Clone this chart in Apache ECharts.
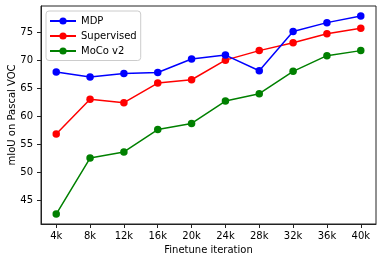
<!DOCTYPE html>
<html>
<head>
<meta charset="utf-8">
<script src="https://cdn.jsdelivr.net/npm/echarts@6/dist/echarts.min.js"></script>
<style>html,body{margin:0;padding:0;background:#fff}#c{width:382px;height:262px}</style>
</head>
<body>
<div id="c"></div>
<script>
var iterations = [4, 8, 12, 16, 20, 24, 28, 32, 36, 40];
var mdp = [67.9, 67.0, 67.6, 67.8, 70.2, 70.9, 68.1, 75.1, 76.7, 77.9];
var supervised = [56.8, 63.0, 62.4, 65.9, 66.5, 70.0, 71.7, 73.1, 74.7, 75.7];
var moco = [42.5, 52.5, 53.6, 57.6, 58.7, 62.7, 64.0, 68.0, 70.8, 71.7];
var yTicks = [45, 50, 55, 60, 65, 70, 75];
var seriesNames = ['MDP', 'Supervised', 'MoCo v2'];
var colors = ['#0000ff', '#ff0000', '#008000'];

var font = 'DejaVu Sans';
function pairs(arr) { return arr.map(function (v, i) { return [iterations[i], v]; }); }
var allVals = mdp.concat(supervised, moco);
var dmin = Math.min.apply(null, allVals), dmax = Math.max.apply(null, allVals);
var pad = (dmax - dmin) * 0.05;
var xpad = (iterations[iterations.length - 1] - iterations[0]) * 0.05;

var chart = echarts.init(document.getElementById('c'), null, {renderer: 'canvas'});
chart.setOption({
  animation: false,
  backgroundColor: '#fff',
  grid: {left: 41, top: 6, width: 335, height: 218, containLabel: false, outerBoundsMode: 'none', show: true, borderColor: '#222', borderWidth: 1, backgroundColor: 'transparent'},
  legend: {
    orient: 'vertical', left: 46, top: 11,
    padding: [5, 4, 4.5, 3], itemGap: 5, itemWidth: 26, itemHeight: 9,
    backgroundColor: 'rgba(255,255,255,0.8)', borderColor: '#ccc', borderWidth: 1, borderRadius: 3,
    textStyle: {fontFamily: font, fontSize: 10, color: '#000'},
    data: seriesNames
  },
  xAxis: {
    type: 'value', min: iterations[0] - xpad, max: iterations[iterations.length - 1] + xpad,
    name: 'Finetune iteration', nameLocation: 'middle', nameGap: 19,
    nameTextStyle: {fontFamily: font, fontSize: 10, color: '#000'},
    axisLine: {show: true, onZero: false, lineStyle: {color: '#222', width: 1}},
    axisTick: {show: true, length: 4, customValues: iterations, lineStyle: {color: '#222'}},
    axisLabel: {customValues: iterations, margin: 7, fontFamily: font, fontSize: 10, color: '#000', formatter: function (v) { return v + 'k'; }},
    splitLine: {show: false}
  },
  yAxis: {
    type: 'value', min: dmin - pad, max: dmax + pad,
    name: 'mIoU on Pascal VOC', nameLocation: 'middle', nameGap: 24, nameRotate: 90, nameMoveOverlap: false,
    nameTextStyle: {fontFamily: font, fontSize: 10, color: '#000'},
    axisLine: {show: true, onZero: false, lineStyle: {color: '#222', width: 1}},
    axisTick: {show: true, length: 4, customValues: yTicks, lineStyle: {color: '#222'}},
    axisLabel: {customValues: yTicks, margin: 8, fontFamily: font, fontSize: 10, color: '#000'},
    splitLine: {show: false}
  },
  series: [mdp, supervised, moco].map(function (d, i) {
    return {
      name: seriesNames[i], type: 'line', data: pairs(d),
      symbol: 'circle', symbolSize: 7.5, showSymbol: true,
      lineStyle: {color: colors[i], width: 1.5},
      itemStyle: {color: colors[i]},
      z: 3 - i
    };
  })
});
</script>
</body>
</html>
